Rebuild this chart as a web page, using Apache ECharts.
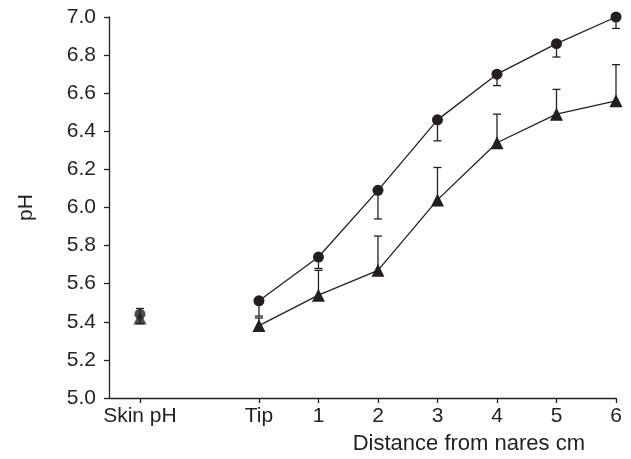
<!DOCTYPE html>
<html>
<head>
    <meta charset="UTF-8">
    <title>pH vs distance from nares</title>
    <script src="https://cdn.jsdelivr.net/npm/echarts@6/dist/echarts.min.js"></script>
    <style type="text/css">
    * {
        margin: 0;
        padding: 0;
    }
    body {
        background-color: #ffffff;
    }
    #chart {
        width: 631px;
        height: 459px;
    }
    </style>
</head>
<body>
    <div id="chart"></div>
    <script>
        // x positions: skin pH sits two steps left of the tip
        var xPos = [-2, 0, 1, 2, 3, 4, 5, 6];
        var xLabels = ['Skin pH', 'Tip', '1', '2', '3', '4', '5', '6'];

        // circles (upper curve), error bar drawn downwards
        var circleMean = [5.44, 5.51, 5.74, 6.09, 6.46, 6.70, 6.86, 7.00];
        var circleErrEnd = [5.47, 5.43, 5.68, 5.94, 6.35, 6.64, 6.79, 6.94];

        // triangles (lower curve), error bar drawn upwards
        var triMean = [5.42, 5.38, 5.54, 5.67, 6.04, 6.34, 6.49, 6.56];
        var triErrEnd = [5.39, 5.42, 5.67, 5.85, 6.21, 6.49, 6.62, 6.75];

        var yTicks = ['5.0', '5.2', '5.4', '5.6', '5.8', '6.0', '6.2', '6.4', '6.6', '6.8', '7.0'];

        var ink = '#231f20';

        function pairs(vals, from, to) {
            var out = [];
            for (var i = from; i < to; i++) {
                out.push([xPos[i], vals[i]]);
            }
            return out;
        }

        function errData(means, ends) {
            var out = [];
            for (var i = 0; i < xPos.length; i++) {
                out.push([xPos[i], means[i], ends[i]]);
            }
            return out;
        }

        function renderErr(params, api) {
            var p0 = api.coord([api.value(0), api.value(1)]);
            var p1 = api.coord([api.value(0), api.value(2)]);
            var w = 4;
            return {
                type: 'group',
                children: [
                    {type: 'line', shape: {x1: p0[0], y1: p0[1], x2: p1[0], y2: p1[1]},
                     style: {stroke: ink, lineWidth: 1.3}},
                    {type: 'line', shape: {x1: p1[0] - w, y1: p1[1], x2: p1[0] + w, y2: p1[1]},
                     style: {stroke: ink, lineWidth: 1.3}}
                ]
            };
        }

        var chart = echarts.init(document.getElementById('chart'), null, {renderer: 'canvas'});

        var option = {
            animation: false,
            textStyle: {fontFamily: 'Liberation Sans', color: ink},
            title: {
                text: 'Distance from nares cm',
                right: 46,
                top: 433,
                padding: 0,
                textStyle: {fontFamily: 'Liberation Sans', fontSize: 22, fontWeight: 'normal', color: ink}
            },
            grid: {left: 109, right: 15, top: 17, bottom: 61},
            xAxis: {
                type: 'value',
                min: -2.52,
                max: 6,
                splitLine: {show: false},
                axisLine: {onZero: false, lineStyle: {color: ink, width: 1.3}},
                axisTick: {show: true, length: 5, customValues: xPos, lineStyle: {color: ink, width: 1.3}},
                axisLabel: {
                    customValues: xPos,
                    margin: 8,
                    fontSize: 21,
                    color: ink,
                    formatter: function (v) {
                        var i = xPos.indexOf(v);
                        return i >= 0 ? xLabels[i] : '';
                    }
                }
            },
            yAxis: {
                type: 'value',
                min: 5.0,
                max: 7.0,
                interval: 0.2,
                name: 'pH',
                nameLocation: 'middle',
                nameGap: 72,
                nameRotate: 90,
                nameTextStyle: {fontSize: 21, color: ink},
                splitLine: {show: false},
                axisLine: {show: true, onZero: false, lineStyle: {color: ink, width: 1.3}},
                axisTick: {show: true, length: 5, lineStyle: {color: ink, width: 1.3}},
                axisLabel: {
                    margin: 13,
                    fontSize: 21,
                    color: ink,
                    formatter: function (v) {
                        return yTicks[Math.round((v - 5) / 0.2)];
                    }
                }
            },
            series: [
                {
                    type: 'custom',
                    renderItem: renderErr,
                    data: errData(circleMean, circleErrEnd),
                    z: 1
                },
                {
                    type: 'custom',
                    renderItem: renderErr,
                    data: errData(triMean, triErrEnd),
                    z: 1
                },
                {
                    type: 'line',
                    data: pairs(circleMean, 1, xPos.length),
                    symbol: 'circle',
                    symbolSize: 11,
                    itemStyle: {color: ink},
                    lineStyle: {color: ink, width: 1.3},
                    z: 3
                },
                {
                    type: 'line',
                    data: pairs(triMean, 1, xPos.length),
                    symbol: 'triangle',
                    symbolSize: 13,
                    itemStyle: {color: ink},
                    lineStyle: {color: ink, width: 1.3},
                    z: 3
                },
                {
                    type: 'scatter',
                    data: pairs(triMean, 0, 1),
                    symbol: 'triangle',
                    symbolSize: 13,
                    itemStyle: {color: ink},
                    z: 3
                },
                {
                    type: 'scatter',
                    data: pairs(circleMean, 0, 1),
                    symbol: 'circle',
                    symbolSize: 11,
                    itemStyle: {color: ink},
                    z: 4
                }
            ]
        };

        chart.setOption(option);
    </script>
</body>
</html>
